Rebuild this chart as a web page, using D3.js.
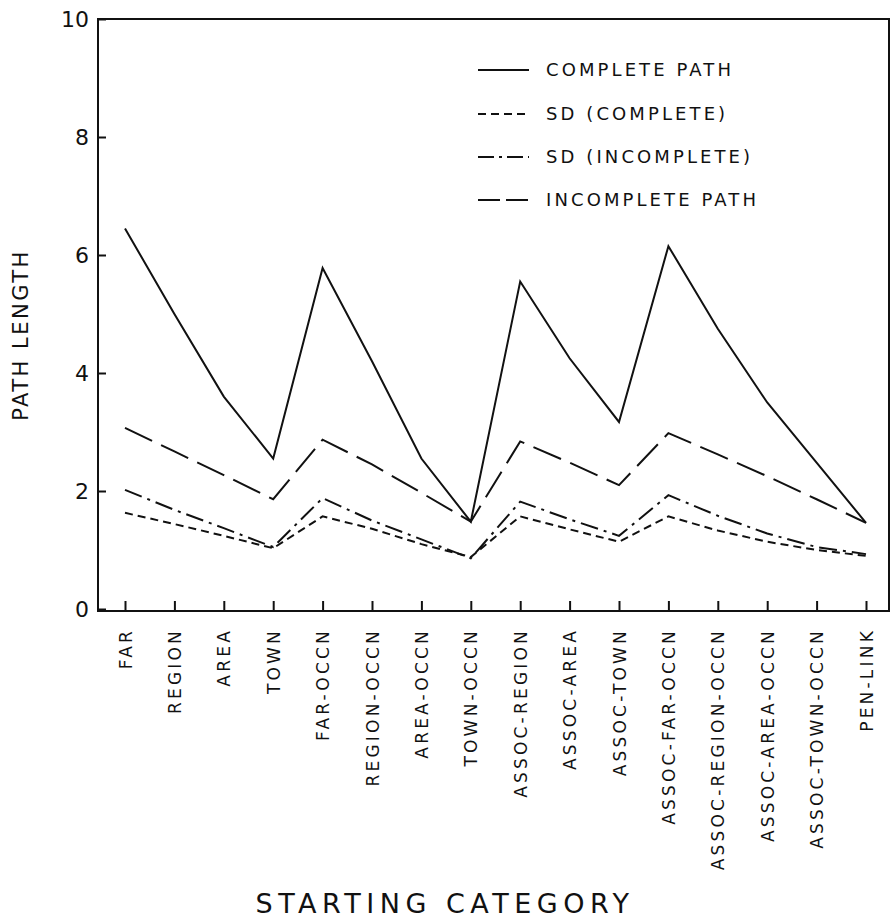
<!DOCTYPE html>
<html>
<head>
<meta charset="utf-8">
<script src="https://cdn.jsdelivr.net/npm/d3@7"></script>
<style>
  body { margin: 0; background: #fff; }
  text { font-family: "DejaVu Sans", sans-serif; fill: #111; }
</style>
</head>
<body>
<div id="chart"></div>
<script>
// --- Data ---
const categories = ["FAR", "REGION", "AREA", "TOWN", "FAR-OCCN", "REGION-OCCN", "AREA-OCCN",
  "TOWN-OCCN", "ASSOC-REGION", "ASSOC-AREA", "ASSOC-TOWN", "ASSOC-FAR-OCCN",
  "ASSOC-REGION-OCCN", "ASSOC-AREA-OCCN", "ASSOC-TOWN-OCCN", "PEN-LINK"];

const completePath   = [6.45, 5.0, 3.6, 2.55, 5.78, 4.2, 2.55, 1.48, 5.55, 4.25, 3.17, 6.15, 4.75, 3.5, 2.48, 1.46];
const sdComplete     = [1.63, 1.44, 1.24, 1.03, 1.57, 1.36, 1.1, 0.88, 1.57, 1.35, 1.14, 1.57, 1.33, 1.14, 1.0, 0.9];
const sdIncomplete   = [2.02, 1.68, 1.37, 1.05, 1.88, 1.5, 1.18, 0.86, 1.82, 1.52, 1.24, 1.93, 1.58, 1.28, 1.05, 0.93];
const incompletePath = [3.07, 2.67, 2.27, 1.86, 2.87, 2.45, 1.97, 1.48, 2.84, 2.48, 2.1, 2.98, 2.62, 2.25, 1.86, 1.46];

const seriesNames = ["COMPLETE PATH", "SD (COMPLETE)", "SD (INCOMPLETE)", "INCOMPLETE PATH"];
const yTicks = [0, 2, 4, 6, 8, 10];

// --- Setup SVG ---
const width = 891, height = 923;
const plot = { left: 98, right: 889, top: 19, bottom: 609 };

const svg = d3.select("#chart").append("svg")
  .attr("width", width)
  .attr("height", height);

const x = d3.scalePoint().domain(categories).range([125, 866]);
const y = d3.scaleLinear().domain([0, 10]).range([plot.bottom, plot.top]);

// frame
svg.append("rect")
  .attr("x", plot.left).attr("y", plot.top)
  .attr("width", plot.right - plot.left).attr("height", 611 - plot.top)
  .attr("fill", "none").attr("stroke", "#111").attr("stroke-width", 2);

// --- Axes ---
const yAxis = svg.append("g")
  .attr("transform", `translate(${plot.left},0)`)
  .call(d3.axisLeft(y).tickValues(yTicks).tickSize(-8).tickPadding(9));
yAxis.select(".domain").remove();
yAxis.selectAll("line").attr("stroke", "#111").attr("stroke-width", 2);
yAxis.selectAll("text").attr("font-size", "22px");

const xAxis = svg.append("g")
  .attr("transform", "translate(0,611)")
  .call(d3.axisBottom(x).tickSize(-10));
xAxis.select(".domain").remove();
xAxis.selectAll("line").attr("stroke", "#111").attr("stroke-width", 2);
xAxis.selectAll("text")
  .attr("transform", "rotate(-90)")
  .attr("text-anchor", "end")
  .attr("x", -17).attr("y", 0).attr("dy", "0.36em")
  .attr("font-size", "17px")
  .attr("letter-spacing", "3.2px");

// axis titles
svg.append("text")
  .attr("transform", "translate(28,335) rotate(-90)")
  .attr("text-anchor", "middle")
  .attr("font-size", "21px")
  .attr("letter-spacing", "2.5px")
  .text("PATH LENGTH");

svg.append("text")
  .attr("x", 445).attr("y", 913)
  .attr("text-anchor", "middle")
  .attr("font-size", "27px")
  .attr("letter-spacing", "5.5px")
  .text("STARTING CATEGORY");

// --- Lines ---
const series = [
  { name: seriesNames[0], values: completePath, dash: null },
  { name: seriesNames[1], values: sdComplete, dash: "8,5" },
  { name: seriesNames[2], values: sdIncomplete, dash: "18,6,3,6" },
  { name: seriesNames[3], values: incompletePath, dash: "30,10" }
];

const line = d3.line()
  .x((d, i) => x(categories[i]))
  .y(d => y(d));

series.forEach(s => {
  svg.append("path")
    .datum(s.values)
    .attr("d", line)
    .attr("fill", "none")
    .attr("stroke", "#111")
    .attr("stroke-width", 2)
    .attr("stroke-dasharray", s.dash);
});

// --- Legend ---
const legendRows = [70, 114, 157, 200];
const legendDash = [null, "8,5", "16,5,3,5", "22,6"];
series.forEach((s, i) => {
  svg.append("line")
    .attr("x1", 478).attr("x2", 529)
    .attr("y1", legendRows[i]).attr("y2", legendRows[i])
    .attr("stroke", "#111").attr("stroke-width", 2)
    .attr("stroke-dasharray", legendDash[i]);
  svg.append("text")
    .attr("x", 546).attr("y", legendRows[i])
    .attr("dy", "0.36em")
    .attr("font-size", "18px")
    .attr("letter-spacing", "3.1px")
    .text(s.name);
});
</script>
</body>
</html>
